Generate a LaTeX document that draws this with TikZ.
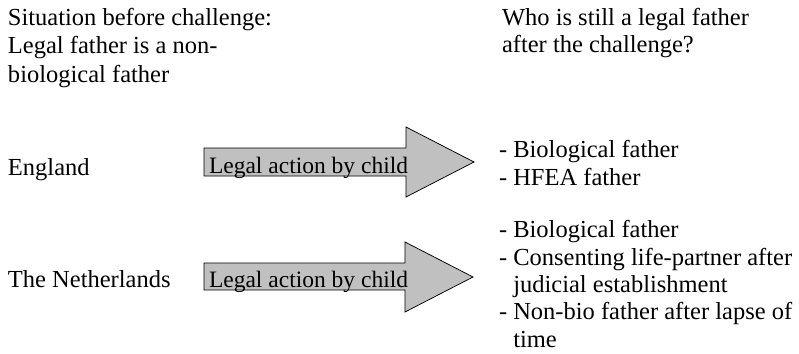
\documentclass[tikz,border=0pt]{standalone}
\usepackage{fontspec}
\setmainfont{Liberation Serif}
\definecolor{arrowgray}{HTML}{C0C0C0}
\begin{document}
\begin{tikzpicture}[x=1pt,y=-1pt,
  txt/.style={anchor=base west, inner sep=0pt, outer sep=0pt, align=left,
    font=\fontsize{24.5}{27.3}\selectfont},
  head/.style={txt, font=\fontsize{24.5}{28.5}\selectfont},
  bigarrow/.style={draw=black, fill=arrowgray, line width=0.75pt, line join=miter}]
\useasboundingbox (0,0) rectangle (799,353);
% arrows
\draw[bigarrow] (204,148) -- (406,148) -- (406,127) -- (474,162) -- (406,197) -- (406,176) -- (204,176) -- cycle;
\draw[bigarrow] (204,263) -- (405,263) -- (405,242) -- (473,277) -- (405,312) -- (405,290) -- (204,290) -- cycle;
% headings (base anchor = baseline of last line)
\node[head] (before) at (8,82) {Situation before challenge:\\Legal father is a non-\\biological father};
\node[head, font=\fontsize{24.5}{27.5}\selectfont] (after) at (502,52.5) {Who is still a legal father\\after the challenge?};
% rows
\node[txt] (eng) at (8,175) {England};
\node[txt] (nl) at (8,287) {The Netherlands};
\node[txt, font=\fontsize{23.5}{27}\selectfont] (act1) at (209,173) {Legal action by child};
\node[txt, font=\fontsize{23.5}{27}\selectfont] (act2) at (209,287) {Legal action by child};
\node[txt] (res1) at (499,185) {- Biological father\\- HFEA father};
\node[txt] (res2) at (499,347) {- Biological father\\- Consenting life-partner after\\\hphantom{- }judicial establishment\\- Non-bio father after lapse of\\\hphantom{- }time};
\end{tikzpicture}
\end{document}
